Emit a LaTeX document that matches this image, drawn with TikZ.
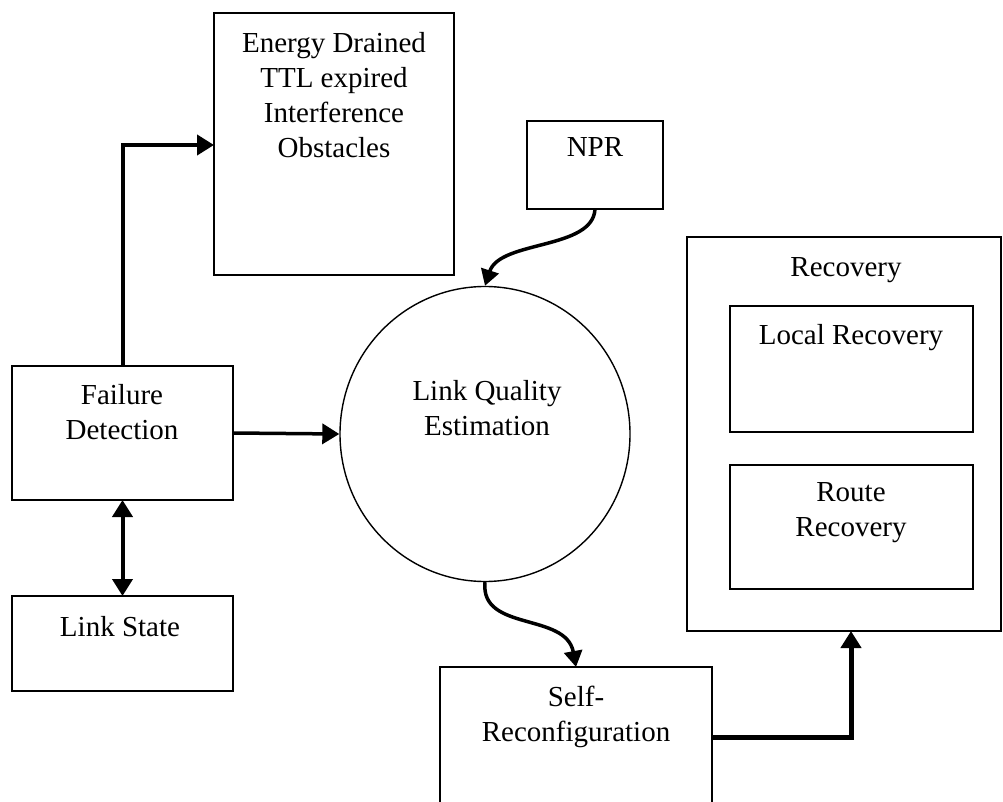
\documentclass[tikz,border=0pt]{standalone}
\usepackage{fontspec}
\setmainfont{Liberation Serif}
\usetikzlibrary{arrows.meta,shapes.geometric}
\begin{document}
\begin{tikzpicture}[x=1pt,y=-1pt,
  box/.style={draw, line width=1.8pt, anchor=north west, inner sep=0pt, outer sep=0pt},
  txt/.style={font=\fontsize{29}{35}\selectfont, align=center, inner sep=0pt, anchor=north},
  head/.style={Triangle[length=17pt,width=20pt]},
  flow/.style={line width=4pt, -{Triangle[length=17pt,width=20pt]}},
  wavy/.style={line width=3.5pt, -{Triangle[length=16pt,width=18pt]}},
]
\useasboundingbox (0,0) rectangle (1003,802);

% boxes
\node[box, minimum width=240pt, minimum height=262pt] (energy) at (214,13) {};
\node[box, minimum width=136pt, minimum height=88pt] (npr) at (527,121) {};
\node[box, minimum width=221pt, minimum height=134pt] (fail) at (12,366) {};
\node[box, minimum width=221pt, minimum height=95pt] (state) at (12,596) {};
\node[box, minimum width=272pt, minimum height=160pt] (self) at (440,667) {};
\node[box, minimum width=314pt, minimum height=394pt] (recov) at (687,237) {};
\node[box, minimum width=243pt, minimum height=126pt] (local) at (730,306) {};
\node[box, minimum width=243pt, minimum height=124pt] (route) at (730,465) {};
\node[draw, ellipse, line width=1.4pt, minimum width=290pt, minimum height=295pt, inner sep=0pt] (lqe) at (485,434) {};

% labels
\node[txt] (energyT) at (334,32) {Energy Drained\\TTL expired\\Interference\\Obstacles};
\node[txt] (nprT) at (595,137) {NPR};
\node[txt] (failT) at (122,384) {Failure\\Detection};
\node[txt] (stateT) at (120,616) {Link State};
\node[txt] (lqeT) at (487,380) {Link Quality\\Estimation};
\node[txt] (selfT) at (576,686) {Self-\\Reconfiguration};
\node[txt] (recovT) at (846,257) {Recovery};
\node[txt] (localT) at (851,324) {Local Recovery};
\node[txt] (routeT) at (851,482) {Route\\Recovery};

% connectors
\coordinate (eIn) at (214,145);
\coordinate (sOut) at (712,737);
\coordinate (rIn) at (851,631);
\draw[flow] (fail.north) |- (eIn);
\draw[flow, line width=3.5pt] (fail.east) -- (lqe.west);
\draw[line width=4pt, {Triangle[length=17pt,width=20pt]}-{Triangle[length=17pt,width=20pt]}] (fail.south) -- (state.north);
\draw[wavy] (npr.south) .. controls (593,250) and (500,240) .. (lqe.north);
\draw[wavy] (lqe.south) .. controls (480,632) and (566,612) .. (self.north);
\draw[flow, line width=5pt] (sOut) -| (rIn);
\end{tikzpicture}
\end{document}
